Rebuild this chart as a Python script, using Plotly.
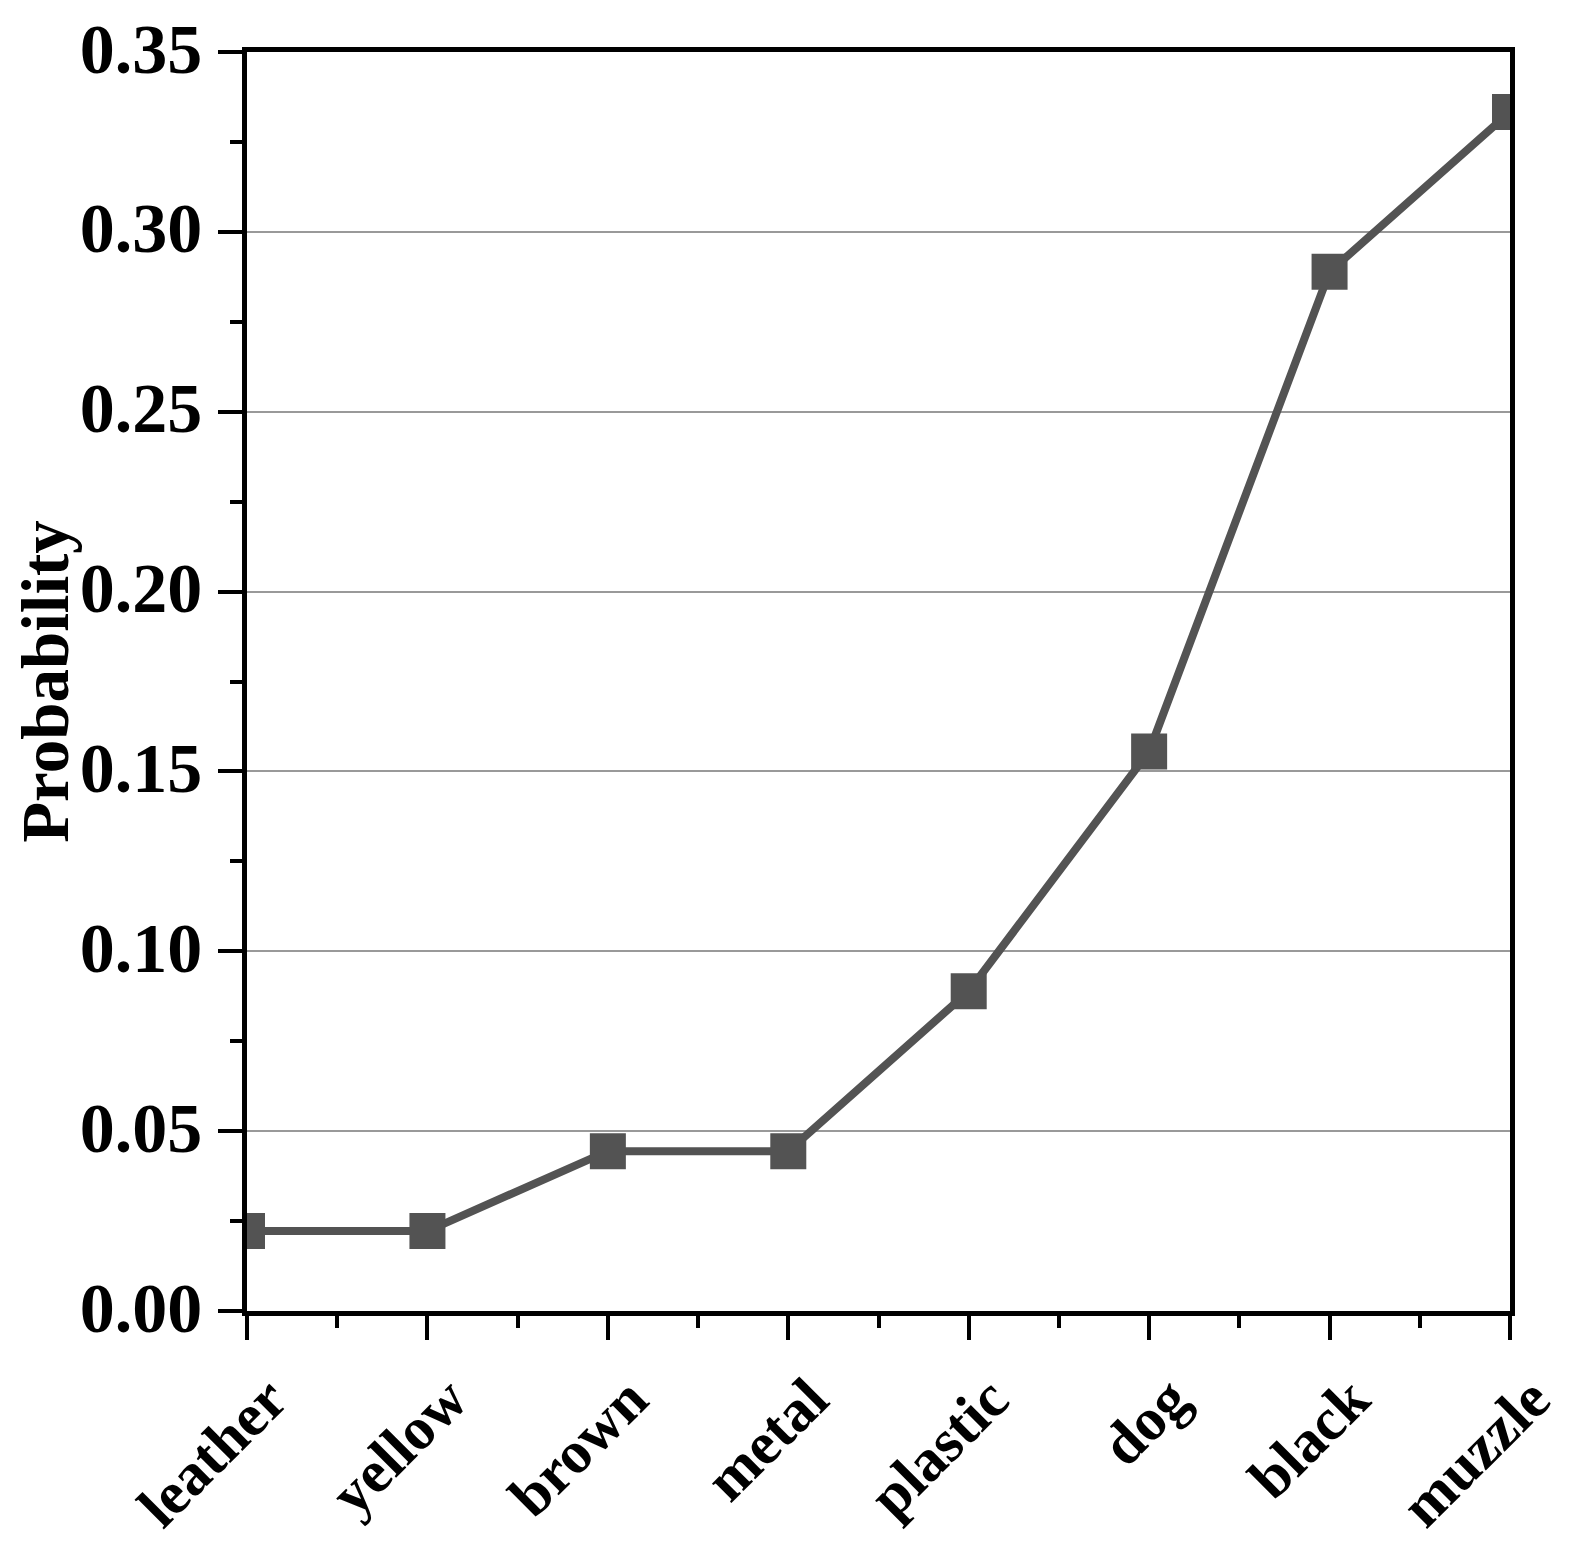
import plotly.graph_objects as go

categories = ["leather", "yellow", "brown", "metal", "plastic", "dog", "black", "muzzle"]
probability = [1/45, 1/45, 2/45, 2/45, 4/45, 7/45, 13/45, 15/45]
y_ticks = [0.0, 0.05, 0.10, 0.15, 0.20, 0.25, 0.30, 0.35]

FONT = "Liberation Serif, Times New Roman, serif"
LINE_COLOR = "#535353"

fig = go.Figure()
fig.add_trace(go.Scatter(
    x=list(range(len(categories))),
    y=probability,
    mode="lines+markers",
    line=dict(color=LINE_COLOR, width=8),
    marker=dict(symbol="square", size=36, color=LINE_COLOR, line=dict(width=0)),
    cliponaxis=True,
    showlegend=False,
))

fig.update_layout(
    width=1578, height=1546,
    margin=dict(l=239, r=76, t=44, b=243),
    paper_bgcolor="white", plot_bgcolor="white",
    font=dict(family=FONT, color="black"),
)

fig.update_xaxes(
    range=[0, len(categories) - 1],
    automargin=False,
    tickmode="array",
    tickvals=list(range(len(categories))),
    ticktext=categories,
    tickangle=-45,
    ticklabelshift=22,
    ticklabeloverflow="allow",
    tickfont=dict(family=FONT, size=60, weight="bold", color="black"),
    showline=True, linecolor="black", linewidth=4.5, mirror=True,
    ticks="outside", ticklen=24, tickwidth=4, tickcolor="black",
    minor=dict(ticks="outside", ticklen=12, tickwidth=4, tickcolor="black", dtick=0.5, tick0=0, showgrid=False),
    showgrid=False, zeroline=False,
)

fig.update_yaxes(
    range=[0, 0.35],
    automargin=False,
    tickmode="array",
    tickvals=y_ticks,
    ticktext=[f"{v:.2f}" for v in y_ticks],
    ticklabelstandoff=2,
    ticklabelshift=-4,
    ticklabeloverflow="allow",
    tickfont=dict(family=FONT, size=70, weight="bold", color="black"),
    showline=True, linecolor="black", linewidth=4.5, mirror=True,
    ticks="outside", ticklen=24, tickwidth=4, tickcolor="black",
    minor=dict(ticks="outside", ticklen=12, tickwidth=4, tickcolor="black", dtick=0.025, tick0=0, showgrid=False),
    showgrid=True, gridcolor="#999999", gridwidth=2,
    zeroline=False,
    title=dict(text="Probability", font=dict(family=FONT, size=67, weight="bold", color="black"), standoff=6),
)

fig.write_html("out.html")
